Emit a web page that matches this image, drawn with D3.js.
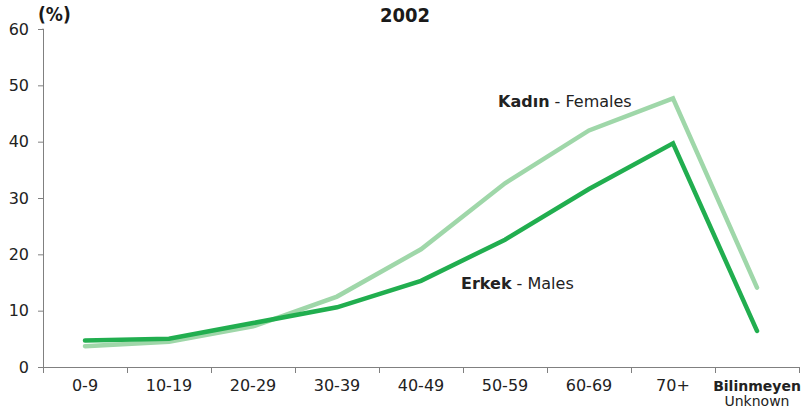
<!DOCTYPE html>
<html>
<head>
<meta charset="utf-8">
<script src="https://cdn.jsdelivr.net/npm/d3@7"></script>
<style>
  html, body { margin: 0; padding: 0; background: #fff; }
  svg { display: block; }
</style>
</head>
<body>
<svg id="chart" width="808" height="410"></svg>
<script>
const categories = ["0-9", "10-19", "20-29", "30-39", "40-49", "50-59", "60-69", "70+", "Bilinmeyen"];
const females = [3.7, 4.5, 7.2, 12.5, 20.9, 32.6, 42.0, 47.7, 14.1];
const males   = [4.7, 5.0, 7.8, 10.6, 15.3, 22.6, 31.6, 39.7, 6.4];
const yTicks = [0, 10, 20, 30, 40, 50, 60];
const title = "2002";
const unitLabel = "(%)";
const femaleLabel = ["Kadın", " - Females"];
const maleLabel = ["Erkek", " - Males"];
const lastLabelSub = "Unknown";

const svg = d3.select("#chart");
const font = "'DejaVu Sans', Verdana, sans-serif";
const axisColor = "#808080";
const textColor = "#222222";
const darkGreen = "#21ae4f";
const lightGreen = "#9fd7a9";

const x = d3.scaleBand().domain(categories).range([43, 799]).padding(0);
const y = d3.scaleLinear().domain([0, 60]).range([367, 29]);
const cx = c => x(c) + x.bandwidth() / 2;

// Y axis
const yAxis = svg.append("g").attr("transform", "translate(43,0)")
  .call(d3.axisLeft(y).tickValues(yTicks).tickSize(5).tickPadding(9).tickFormat(d3.format("d")));
yAxis.select(".domain").attr("stroke", axisColor).attr("d", `M-0.5,${y(60)}H0.5V${y(0)}`);
yAxis.selectAll(".domain").attr("stroke", axisColor).attr("stroke-width", 1);
yAxis.selectAll(".tick line").attr("stroke", axisColor);
yAxis.selectAll(".tick text").attr("fill", textColor).style("font-family", font).style("font-size", "16px");

// X axis line
svg.append("line")
  .attr("x1", 43).attr("x2", 799).attr("y1", y(0) + 0.5).attr("y2", y(0) + 0.5)
  .attr("stroke", axisColor).attr("stroke-width", 1);

// X boundary ticks
const bounds = categories.map(c => x(c)).concat([x.range()[1]]);
svg.selectAll("line.xtick").data(bounds).enter().append("line")
  .attr("class", "xtick")
  .attr("x1", d => Math.round(d) + 0.5).attr("x2", d => Math.round(d) + 0.5)
  .attr("y1", y(0)).attr("y2", y(0) + 6)
  .attr("stroke", axisColor).attr("stroke-width", 1);

// X labels
svg.selectAll("text.xlab").data(categories).enter().append("text")
  .attr("class", "xlab")
  .attr("x", d => cx(d)).attr("y", 391)
  .attr("text-anchor", "middle")
  .attr("fill", textColor)
  .style("font-family", font)
  .style("font-size", d => d === "Bilinmeyen" ? "14px" : "16px")
  .style("font-weight", d => d === "Bilinmeyen" ? "bold" : "normal")
  .text(d => d);
svg.append("text")
  .attr("x", cx("Bilinmeyen")).attr("y", 406)
  .attr("text-anchor", "middle").attr("fill", textColor)
  .style("font-family", font).style("font-size", "14px")
  .text(lastLabelSub);

// Lines
const line = d3.line().x((d, i) => cx(categories[i])).y(d => y(d));
svg.append("path").datum(females).attr("d", line)
  .attr("fill", "none").attr("stroke", lightGreen).attr("stroke-width", 4.5)
  .attr("stroke-linecap", "round").attr("stroke-linejoin", "miter");
svg.append("path").datum(males).attr("d", line)
  .attr("fill", "none").attr("stroke", darkGreen).attr("stroke-width", 4.5)
  .attr("stroke-linecap", "round").attr("stroke-linejoin", "miter");

// Series labels
function seriesLabel(xp, yp, parts) {
  const t = svg.append("text").attr("x", xp).attr("y", yp)
    .attr("fill", textColor).style("font-family", font).style("font-size", "16px");
  t.append("tspan").style("font-weight", "bold").text(parts[0]);
  t.append("tspan").text(parts[1]);
}
seriesLabel(498, 107, femaleLabel);
seriesLabel(461, 289, maleLabel);

// Title and unit
svg.append("text").attr("x", 405).attr("y", 22).attr("text-anchor", "middle")
  .attr("fill", "#1a1a1a")
  .style("font-family", "'DejaVu Sans Condensed', 'DejaVu Sans', sans-serif")
  .style("font-size", "20px").style("font-weight", "bold").text(title);
svg.append("text").attr("x", 38).attr("y", 21)
  .attr("fill", "#1a1a1a")
  .style("font-family", "'DejaVu Sans Condensed', 'DejaVu Sans', sans-serif")
  .style("font-size", "19px").style("font-weight", "bold").text(unitLabel);
</script>
</body>
</html>
